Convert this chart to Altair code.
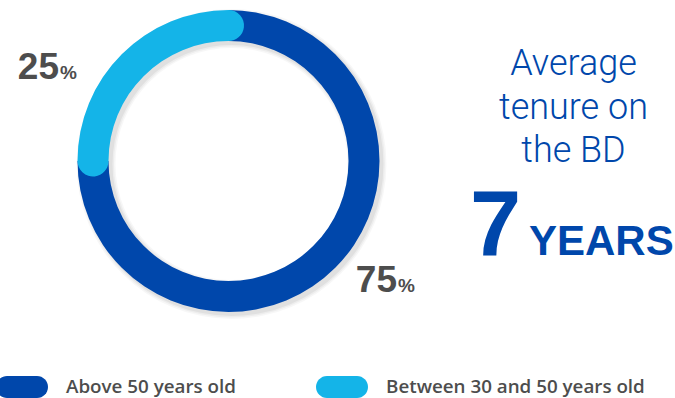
import math
import altair as alt
import pandas as pd

# ---- data ----
categories = ["Above 50 years old", "Between 30 and 50 years old"]
shares = [75, 25]
colors = ["#0047AB", "#14B4E8"]
headline_lines = ["Average", "tenure on", "the BD"]
tenure_years = ["7"]
tenure_unit = ["YEARS"]

df = pd.DataFrame({"group": categories, "share": shares, "order": list(range(len(categories)))})

W, H = 675, 398
CX, CY = 228.5, 161
R_OUT, R_IN = 151, 120
CAP = (R_OUT - R_IN) / 2
EXT = math.asin(CAP / ((R_OUT + R_IN) / 2))

pill = ("M-0.577,-0.423 L0.577,-0.423 C0.8106,-0.423 1,-0.2336 1,0 "
        "C1,0.2336 0.8106,0.423 0.577,0.423 L-0.577,0.423 "
        "C-0.8106,0.423 -1,0.2336 -1,0 C-1,-0.2336 -0.8106,-0.423 -0.577,-0.423 Z")

color_enc = alt.Color(
    "group:N",
    scale=alt.Scale(domain=categories, range=colors),
    sort=categories,
    legend=alt.Legend(
        title=None, orient="none", direction="horizontal",
        legendX=-4, legendY=361, padding=0,
        symbolType=pill, symbolSize=2704, symbolStrokeWidth=0, symbolOpacity=1,
        labelFont="Open Sans", labelFontWeight=600, labelFontSize=18.8,
        labelColor="#4d4d4d", labelOffset=18, columnPadding=80, labelLimit=0,
    ),
)

base = alt.Chart(df).transform_joinaggregate(
    total="sum(share)"
).transform_window(
    cum="sum(share)", sort=[alt.SortField("order")]
).transform_calculate(
    t0="(datum.cum - datum.share) / datum.total * 2 * PI",
    t1="datum.cum / datum.total * 2 * PI",
)

# soft drop shadow of the ring
shadows = []
for grow, op in [(4, 0.03), (2.5, 0.04), (1, 0.05)]:
    shadows.append(
        base.mark_arc(outerRadius=R_OUT + grow, innerRadius=R_IN - grow,
                      color="#000000", opacity=op).encode(
            theta=alt.Theta("t0:Q", scale=None), theta2="t1:Q",
            x=alt.value(CX + 3), y=alt.value(CY + 3))
    )

dark = base.transform_filter(alt.datum.group == categories[0]).mark_arc(
    outerRadius=R_OUT, innerRadius=R_IN
).encode(
    theta=alt.Theta("t0:Q", scale=None),
    theta2="t1:Q",
    color=color_enc,
    x=alt.value(CX), y=alt.value(CY),
)

light = base.transform_filter(alt.datum.group == categories[1]).transform_calculate(
    s0=f"datum.t0 - {EXT}", s1=f"datum.t1 + {EXT}"
).mark_arc(
    outerRadius=R_OUT, innerRadius=R_IN, cornerRadius=CAP
).encode(
    theta=alt.Theta("s0:Q", scale=None),
    theta2="s1:Q",
    color=color_enc,
    x=alt.value(CX), y=alt.value(CY),
)

def pct_label(cat, x, y):
    d = base.transform_filter(alt.datum.group == cat)
    num = d.mark_text(align="right", baseline="alphabetic", font="Liberation Sans",
                      fontWeight="bold", fontSize=37, color="#4d4d4d").encode(
        text="share:Q", x=alt.value(x), y=alt.value(y))
    pct = d.mark_text(align="left", baseline="alphabetic", font="Liberation Sans",
                      fontWeight="bold", fontSize=19, color="#4d4d4d").encode(
        text=alt.value("%"), x=alt.value(x + 1), y=alt.value(y))
    return num + pct

lab25 = pct_label(categories[1], 59, 79)
lab75 = pct_label(categories[0], 397, 292)

head_df = pd.DataFrame({"txt": ["\n".join(headline_lines)]})
headline = alt.Chart(head_df).mark_text(
    align="center", baseline="alphabetic", lineBreak="\n", lineHeight=43.5,
    font="Roboto", fontWeight=300, fontSize=36, color="#0047AB"
).encode(text="txt:N", x=alt.value(573.5), y=alt.value(75))

seven = alt.Chart(pd.DataFrame({"txt": tenure_years})).mark_text(
    align="left", baseline="alphabetic", font="Liberation Sans", fontWeight="bold",
    fontSize=92, color="#0047AB"
).encode(text="txt:N", x=alt.value(470), y=alt.value(255))

years = alt.Chart(pd.DataFrame({"txt": tenure_unit})).mark_text(
    align="left", baseline="alphabetic", font="Liberation Sans", fontWeight="bold",
    fontSize=42, color="#0047AB"
).encode(text="txt:N", x=alt.value(529), y=alt.value(255))

chart = alt.layer(*shadows, dark, light, lab25, lab75, headline, seven, years).properties(
    width=W, height=H, padding=0, autosize=alt.AutoSizeParams(type="none")
).configure_view(stroke=None)

chart.save("out.html", embed_options={"renderer": "svg", "actions": False})
